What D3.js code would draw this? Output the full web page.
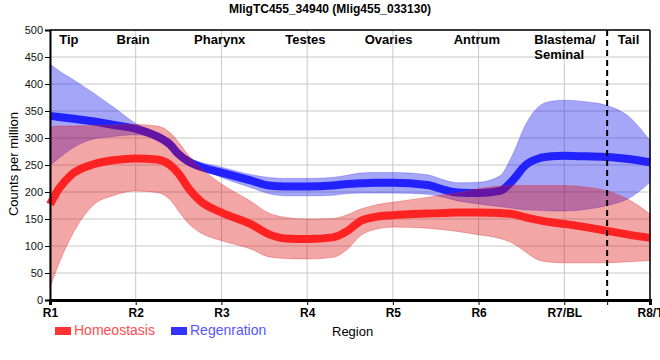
<!DOCTYPE html>
<html><head><meta charset="utf-8">
<script src="https://cdn.jsdelivr.net/npm/d3@7"></script>
<style>body{margin:0;background:#fff}svg text{font-family:"Liberation Sans",Arial,sans-serif}</style>
</head><body>
<svg id="chart" width="660" height="360"></svg>
<script>
// Data (region index: 0 = R1 ... 7 = R8/T)
const regionPos = [0,0.1,0.25,0.5,0.75,1,1.25,1.4,1.5,1.62,1.75,2,2.35,2.55,2.75,3,3.3,3.47,3.62,3.8,4,4.4,4.6,4.75,5,5.25,5.4,5.55,5.7,5.85,6,6.25,6.5,6.75,7];
const homMean = [177,205,232,251,259,262,260,250,234,206,184,162,140,122,114,113,116,128,146,154,157,160,161,162,162,161,159,153,148,144,141,135,128,121,115];
const homHi   = [321,322,322,323,324,325,322,310,292,267,246,215,182,161,153,150,151,158,168,176,181,190,195,198,206,211,212,212,212,212,212,209,202,186,159];
const homLo   = [23,66,118,175,194,202,199,186,165,141,125,110,94,80,77,76,79,94,119,131,135,133,130,127,121,114,105,89,74,70,69,69,69,71,73];
const regMean = [341,339,336,331,324,317,303,288,270,256,247,236,221,212,210,210,212,215,216,217,217,213,204,199,198,202,222,250,262,266,267,266,265,261,255];
const regHi   = [437,425,410,384,356,327,309,291,273,261,255,246,232,227,225,225,227,231,235,236,236,232,222,217,218,230,270,325,358,368,370,367,360,340,295];
const regLo   = [249,262,280,298,303,306,300,285,267,255,245,227,208,197,193,193,194,197,198,198,198,196,190,184,178,173,170,167,166,165,165,168,175,188,218];
const tickLabels = ["R1","R2","R3","R4","R5","R6","R7/BL","R8/T"];
const yTicks = [0,50,100,150,200,250,300,350,400,450,500];
const tissueLabels = ["Tip","Brain","Pharynx","Testes","Ovaries","Antrum","Blastema/","Tail"];
const seriesNames = ["Homeostasis","Regenration"];
const boundaryPos = 6.5;

// layout
const W=660,H=360, L=50, R=650, T=30, B=300;
const svg = d3.select("#chart");
const x = d3.scaleLinear().domain([0,7]).range([L,R]);
const y = d3.scaleLinear().domain([0,500]).range([B,T]);

// grid
svg.append("g").selectAll("line.h").data(yTicks).join("line")
  .attr("x1",L).attr("x2",R).attr("y1",d=>y(d)).attr("y2",d=>y(d))
  .attr("stroke","#c8c8c8").attr("stroke-width",1);
svg.append("g").selectAll("line.v").data(d3.range(tickLabels.length)).join("line")
  .attr("x1",d=>x(d)).attr("x2",d=>x(d)).attr("y1",T).attr("y2",B)
  .attr("stroke","#c8c8c8").attr("stroke-width",1);

const pts = (arr)=>arr.map((v,i)=>({t:regionPos[i],v}));
const band = (lo,hi)=>regionPos.map((t,i)=>({t,lo:lo[i],hi:hi[i]}));
const curve = d3.curveMonotoneX;
const area = d3.area().x(d=>x(d.t)).y0(d=>y(d.lo)).y1(d=>y(d.hi)).curve(curve);
const line = d3.line().x(d=>x(d.t)).y(d=>y(d.v)).curve(curve);

const plot = svg.append("g");
plot.append("path").attr("d",area(band(regLo,regHi)))
  .attr("fill","rgb(0,0,235)").attr("fill-opacity",0.35)
  .attr("stroke","rgb(60,60,240)").attr("stroke-opacity",0.35).attr("stroke-width",1);
plot.append("path").attr("d",line(pts(regMean)))
  .attr("fill","none").attr("stroke","#2222ff").attr("stroke-width",8);
plot.append("path").attr("d",area(band(homLo,homHi)))
  .attr("fill","rgb(220,0,0)").attr("fill-opacity",0.35)
  .attr("stroke","rgb(220,40,40)").attr("stroke-opacity",0.35).attr("stroke-width",1);
plot.append("path").attr("d",line(pts(homMean)))
  .attr("fill","none").attr("stroke","#ff2222").attr("stroke-width",8);

// frame top/right
svg.append("line").attr("x1",L).attr("x2",R).attr("y1",T).attr("y2",T).attr("stroke","#000").attr("stroke-width",1.5);
svg.append("line").attr("x1",R).attr("x2",R).attr("y1",T).attr("y2",B).attr("stroke","#000").attr("stroke-width",1.5);

// boundary dashed line
svg.append("line").attr("x1",x(boundaryPos)).attr("x2",x(boundaryPos)).attr("y1",T).attr("y2",B)
  .attr("stroke","#000").attr("stroke-width",2).attr("stroke-dasharray","6,4");

// axes
const yAxis = svg.append("g").attr("transform",`translate(${L},0)`)
  .call(d3.axisLeft(y).tickValues(yTicks).tickSize(5).tickPadding(2));
yAxis.select(".domain").attr("stroke-width",2);
yAxis.selectAll("text").attr("font-size",11).attr("fill","#111");

const xAxis = svg.append("g").attr("transform",`translate(0,${B})`)
  .call(d3.axisBottom(x).tickValues(d3.range(tickLabels.length).concat([boundaryPos])).tickSize(5).tickPadding(3)
    .tickFormat(d=>Number.isInteger(d)?tickLabels[d]:""));
xAxis.select(".domain").attr("stroke-width",3);
xAxis.selectAll("text").attr("font-size",12).attr("fill","#000").attr("font-weight","bold");

// tissue labels
const tissuePos = [0.22,0.97,1.98,2.98,3.95,4.98,5.65,6.75];
svg.append("g").selectAll("text").data(tissueLabels).join("text")
  .attr("x",(d,i)=>x(tissuePos[i])).attr("y",44)
  .attr("text-anchor",(d,i)=>i===6?"start":"middle")
  .attr("font-size",13).attr("font-weight","bold").attr("fill","#000")
  .text(d=>d);
svg.append("text").attr("x",x(tissuePos[6])).attr("y",59).attr("font-size",13).attr("font-weight","bold").text("Seminal");

// title
svg.append("text").attr("x",330).attr("y",13).attr("text-anchor","middle")
  .attr("font-size",12).attr("font-weight","bold").text("MligTC455_34940 (Mlig455_033130)");

// y label
svg.append("text").attr("transform","translate(18,164) rotate(-90)").attr("text-anchor","middle")
  .attr("font-size",13).text("Counts per million");

// x label
svg.append("text").attr("x",332).attr("y",336).attr("font-size",13).text("Region");

// legend
const legColors = [["#ff3333","#ff4d4d"],["#3333ff","#5555ff"]];
const legX = [55,171];
seriesNames.forEach((n,i)=>{
  svg.append("rect").attr("x",legX[i]).attr("y",327).attr("width",16).attr("height",8).attr("fill",legColors[i][0]);
  svg.append("text").attr("x",legX[i]+19).attr("y",335).attr("font-size",14).attr("fill",legColors[i][1]).text(n);
});
</script>
</body></html>
